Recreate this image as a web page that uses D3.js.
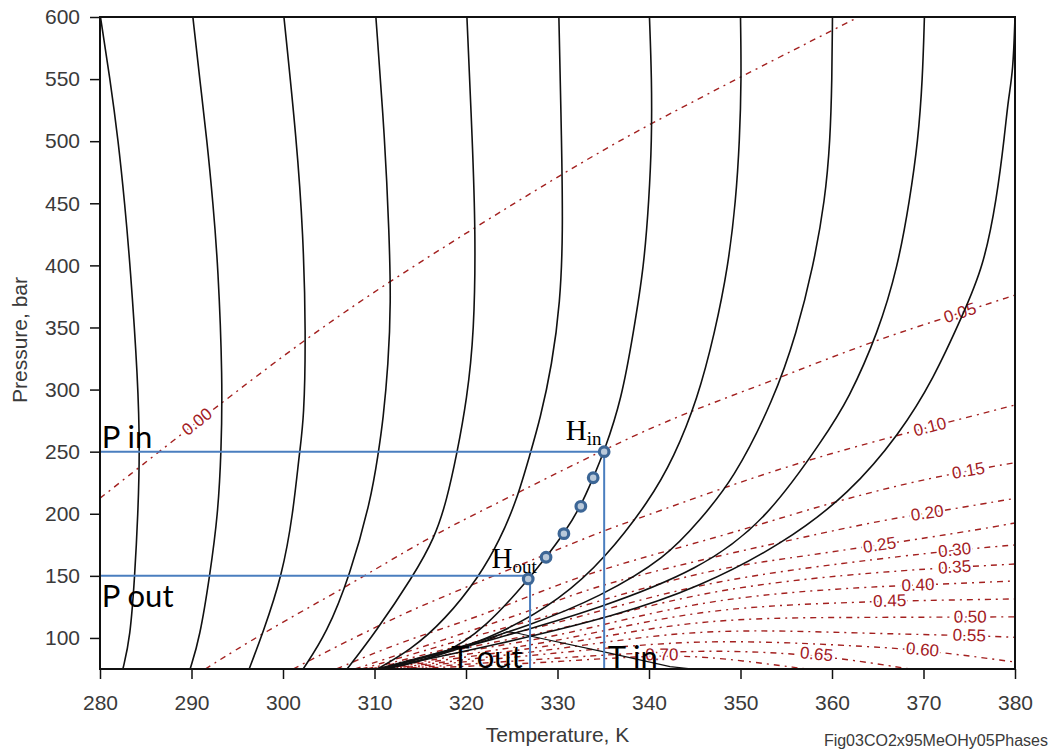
<!DOCTYPE html>
<html lang="en">
<head>
<meta charset="utf-8">
<title>CO2 / MeOH phase diagram</title>
<script src="https://cdn.jsdelivr.net/npm/d3@7"></script>
<style>
  body { margin: 0; background: #fff; }
</style>
</head>
<body>
<script>
// ---- data: [temperature K, pressure bar] ----

// isenthalps (black)
var isenthalp1 = [[280.05,600],[281.1,550],[282.0,500],[282.7,450],[283.3,400],[284.15,308],[284.35,250],[284.15,200],[283.8,150],[283.3,100],[282.5,75]];
var isenthalp2 = [[290.15,600],[290.9,550],[291.7,500],[292.35,450],[292.9,400],[293.4,308],[293.25,250],[292.9,200],[292.0,150],[290.9,100],[289.85,75]];
var isenthalp3 = [[300.1,600],[301.5,500],[302.2,426],[302.5,346],[302.3,276],[301.8,250],[301.1,200],[299.9,150],[297.8,104],[296.3,75]];
var isenthalp4 = [[310.15,600],[311.15,500],[311.6,426],[311.8,370],[311.5,320],[310.95,276],[310.4,248],[309.6,211],[307.3,150],[304.8,104],[302.2,75]];
var isenthalp5 = [[320.1,600],[320.7,500],[321.05,426],[320.9,346],[320.1,292],[319.0,248],[317.9,211],[316.6,181],[314.25,150],[310.05,104],[307.0,75]];
var isenthalp6 = [[330.15,600],[330.45,500],[330.6,426],[330.3,370],[329.4,320],[328.1,276],[327.0,248],[325.55,211],[323.7,179],[321.5,150],[317.7,114.5],[313.9,90],[310.3,75]];
var isenthalp7 = [[340.05,600],[340.3,550],[340.3,500],[340.0,453],[339.45,399],[338.3,346],[337.0,292],[335.1,250],[333.9,229],[332.55,206],[330.7,184],[328.75,165],[326.8,147],[322.25,109],[317.5,85],[311.2,75]];
var isenthalp8 = [[350.0,600],[350.1,550],[349.9,500],[349.5,453],[348.65,399],[347.2,346],[345.3,292],[342.7,245],[340.1,211],[335.2,164],[330.3,131],[324.0,104],[317.15,85.5],[311.15,75]];
var isenthalp9 = [[360.05,600],[360.0,550],[359.8,500],[359.25,453],[357.95,399],[356.15,346],[353.65,292],[349.2,227],[345.55,195],[341.95,165],[334.65,133],[327.0,110],[318.25,90],[310.6,75]];
var isenthalp10 = [[370.1,600],[369.9,550],[369.4,500],[368.5,453],[367.2,399],[365.05,346],[361.8,292],[359.2,262],[352.85,195],[345.55,155],[334.65,124],[323.7,100],[310.6,75]];
var isenthalp11 = [[380,600],[379.8,557],[379.25,533],[378.9,507],[378.0,453],[376.55,399],[374.35,361],[371.05,308],[367.45,265],[361.95,216.5],[354.7,176],[345.55,141],[336.5,118],[323.7,95],[310.6,75]];

// two-phase boundary
var envelope = [[310.15,75],[317.2,88.7],[322.0,97.5],[322.95,100.2],[324.45,105],[325.55,104],[327.0,101.6],[334.95,89],[342.3,76.9],[344.8,75]];

// vapour fraction contours (red, dashed)
var vf00 = [[280,212.5],[299.65,326.5],[311.7,388.2],[330.6,474.4],[340.1,514.6],[362.9,600]];
var vf05 = [[291.5,75],[297.8,104],[306.95,141.3],[316.05,181.5],[321.55,201.7],[336.45,257],[344.8,283.6],[352.85,305.3],[363.8,337.5],[374.0,361.7],[380,376.1]];
var vf10 = [[301.1,75],[312.8,119.3],[321.55,145.3],[334.65,185.6],[339.4,197.6],[347.4,219.1],[357.25,243.3],[366.65,262.1],[370.7,269.9],[380,287.6]];
var vf15 = [[305.85,75],[312.8,96.8],[321.55,117.1],[330.25,144.2],[338.25,162.8],[349.2,184.5],[360.1,209.7],[371.05,229.8],[380,241.1]];
var vf20 = [[307.85,75],[321.55,108],[330.25,130.6],[334.65,142.6],[345.55,162.8],[356.5,180.5],[365.55,195],[372.55,203],[380,212.4]];
var vf25 = [[308.6,75],[321.55,103],[330.25,120],[345.55,154],[355,164],[365.25,174.9],[375.8,186.9],[380,192.6]];
var vf30 = [[309.2,75],[321.55,98],[330.25,112],[345.55,145],[361.95,161],[373.45,170.8],[380,174.9]];
var vf35 = [[309.6,75],[321.55,95],[330.25,106],[345.55,138],[361.95,151.5],[373.45,157],[380,159.5]];
var vf40 = [[310.0,75],[321.55,92],[330.25,101],[345.55,131],[361.95,140.5],[369.4,142.6],[380,145.9]];
var vf45 = [[310.4,75],[321.55,89],[330.25,97],[345.55,124],[361.95,128.5],[366.35,129.8],[380,131.4]];
var vf50 = [[310.8,75],[321.55,86.5],[330.25,94],[345.55,116],[361.95,116.5],[380,117]];
var vf55 = [[311.2,75],[321.55,84],[330.25,91],[345.55,108],[361.95,104],[375,102],[380,100.5]];
var vf60 = [[311.6,75],[321.55,82],[330.25,88],[345.55,99.5],[361.95,94],[369.95,90.5],[380,80.6]];
var vf65 = [[312.0,75],[321.55,79.5],[330.25,84],[345.55,91],[358.25,87],[368.5,75]];
var vf70 = [[312.4,75],[321.55,77.5],[330.25,81],[341.4,86.5],[348,84],[357.2,75]];
var vfLabels = ["0.00","0.05","0.10","0.15","0.20","0.25","0.30","0.35","0.40","0.45","0.50","0.55","0.60","0.65","0.70"];
var vfLabelT = [290.6, 374.0, 370.7, 374.9, 370.4, 365.2, 373.4, 373.4, 369.4, 366.3, 375.1, 375.0, 369.9, 358.3, 341.4];

// process: inlet / outlet and the path points between them
var pIn = 250, pOut = 150, tIn = 335.1, tOut = 327.0;
var pathT = [335.1, 333.9, 332.55, 330.7, 328.75, 326.8];
var pathP = [250, 229, 206, 184, 165, 147.5];

// axis ticks
var tTicks = d3.range(280, 381, 10);
var pTicks = d3.range(100, 601, 50);

// ---- drawing ----
var width = 1050, height = 749;
var svg = d3.select("body").append("svg")
            .attr("width", width)
            .attr("height", height);

var x = d3.scaleLinear().domain([280, 380]).range([100, 1015]);
var y = d3.scaleLinear().domain([75, 600]).range([669, 17]);

svg.append("defs").append("clipPath").attr("id", "plot")
   .append("rect")
   .attr("x", x(280)).attr("y", y(600))
   .attr("width", x(380) - x(280)).attr("height", y(75) - y(600));

var plot = svg.append("g").attr("clip-path", "url(#plot)");

var smooth = d3.line().x(function(d){ return x(d[0]); }).y(function(d){ return y(d[1]); })
               .curve(d3.curveBasis);

// linear lookup of P along a contour at temperature t
var atT = function(pts, t){
  for (var i = 1; i < pts.length; i++) {
    if (t <= pts[i][0]) {
      var a = pts[i-1], b = pts[i];
      return a[1] + (b[1] - a[1]) * (t - a[0]) / (b[0] - a[0]);
    }
  }
  return pts[pts.length-1][1];
};

var contours = [vf00, vf05, vf10, vf15, vf20, vf25, vf30, vf35, vf40, vf45, vf50, vf55, vf60, vf65, vf70];
var red = "#a3201f";

plot.selectAll("path.vf")
    .data(contours)
    .enter().append("path")
    .attr("class", "vf")
    .attr("d", smooth)
    .attr("fill", "none")
    .attr("stroke", red)
    .attr("stroke-width", 1.4)
    .attr("stroke-dasharray", "6,5,2,5");

// contour labels, turned along the line
contours.forEach(function(pts, i){
  var t = vfLabelT[i];
  var x1 = x(t - 1), y1 = y(atT(pts, t - 1));
  var x2 = x(t + 1), y2 = y(atT(pts, t + 1));
  var ang = Math.atan2(y2 - y1, x2 - x1) * 180 / Math.PI;
  plot.append("text")
      .attr("transform", "translate(" + x(t) + "," + y(atT(pts, t)) + ") rotate(" + ang + ")")
      .attr("text-anchor", "middle")
      .attr("dominant-baseline", "central")
      .attr("font-family", "Liberation Sans, Arial, sans-serif")
      .attr("font-size", 17)
      .attr("fill", red)
      .attr("stroke", "#fff")
      .attr("stroke-width", 4)
      .attr("paint-order", "stroke")
      .text(vfLabels[i]);
});

var isenthalps = [isenthalp1, isenthalp2, isenthalp3, isenthalp4, isenthalp5, isenthalp6,
                  isenthalp7, isenthalp8, isenthalp9, isenthalp10, isenthalp11];

plot.selectAll("path.h")
    .data(isenthalps)
    .enter().append("path")
    .attr("class", "h")
    .attr("d", smooth)
    .attr("fill", "none")
    .attr("stroke", "#111")
    .attr("stroke-width", 1.6);

plot.append("path")
    .datum(envelope)
    .attr("d", d3.line().x(function(d){ return x(d[0]); }).y(function(d){ return y(d[1]); }))
    .attr("fill", "none")
    .attr("stroke", "#111")
    .attr("stroke-width", 1.2);

// inlet / outlet guide lines
var blue = "#4a7ebf";
var guides = [
  [[280, pIn], [tIn, pIn]],
  [[tIn, pIn], [tIn, 75]],
  [[280, pOut], [tOut, pOut]],
  [[tOut, pOut], [tOut, 75]]
];
plot.selectAll("path.guide")
    .data(guides)
    .enter().append("path")
    .attr("class", "guide")
    .attr("d", d3.line().x(function(d){ return x(d[0]); }).y(function(d){ return y(d[1]); }))
    .attr("stroke", blue)
    .attr("stroke-width", 2);

plot.selectAll("circle.pt")
    .data(pathT)
    .enter().append("circle")
    .attr("class", "pt")
    .attr("cx", function(d){ return x(d); })
    .attr("cy", function(d, i){ return y(pathP[i]); })
    .attr("r", 4.8)
    .attr("fill", "#b9c9da")
    .attr("stroke", "#3c6696")
    .attr("stroke-width", 3.2);

// annotations
var note = function(t, p, str){
  return svg.append("text")
            .attr("x", x(t)).attr("y", y(p))
            .attr("font-family", "Lato, 'Open Sans', sans-serif")
            .attr("font-size", 31)
            .attr("fill", "#000")
            .text(str);
};
note(280.2, 253, "P in");
note(280.2, 125, "P out");
note(318.4, 75.5, "T out");
note(335.5, 75.5, "T in");

var hLabel = function(t, p, sub){
  var tx = svg.append("text")
              .attr("x", x(t)).attr("y", y(p))
              .attr("font-family", "Liberation Serif, 'Times New Roman', serif")
              .attr("fill", "#000");
  tx.append("tspan").attr("font-size", 29).text("H");
  tx.append("tspan").attr("font-size", 19).attr("dy", 5).text(sub);
};
hLabel(330.9, 259, "in");
hLabel(322.8, 156, "out");

// axes
var tickFont = "Liberation Sans, Arial, sans-serif";
var xAxis = svg.append("g")
               .attr("transform", "translate(0," + y(75) + ")")
               .call(d3.axisBottom(x).tickValues(tTicks).tickSize(10).tickPadding(16).tickFormat(d3.format("d")));
var yAxis = svg.append("g")
               .attr("transform", "translate(" + x(280) + ",0)")
               .call(d3.axisLeft(y).tickValues(pTicks).tickSize(10).tickPadding(10).tickFormat(d3.format("d")));
[xAxis, yAxis].forEach(function(g){
  g.select(".domain").remove();
  g.selectAll(".tick line").attr("stroke", "#111").attr("stroke-width", 1.5);
  g.selectAll(".tick text").attr("font-family", tickFont).attr("font-size", 21).attr("fill", "#3a3a3a");
});

svg.append("rect")
   .attr("x", x(280)).attr("y", y(600))
   .attr("width", x(380) - x(280)).attr("height", y(75) - y(600))
   .attr("fill", "none")
   .attr("stroke", "#111")
   .attr("stroke-width", 2);

svg.append("text")
   .attr("x", (x(280) + x(380)) / 2)
   .attr("y", 742)
   .attr("text-anchor", "middle")
   .attr("font-family", tickFont)
   .attr("font-size", 21)
   .attr("fill", "#3a3a3a")
   .text("Temperature, K");

svg.append("text")
   .attr("transform", "translate(27,340) rotate(-90)")
   .attr("text-anchor", "middle")
   .attr("font-family", tickFont)
   .attr("font-size", 21)
   .attr("fill", "#3a3a3a")
   .text("Pressure, bar");

svg.append("text")
   .attr("x", 1048)
   .attr("y", 746)
   .attr("text-anchor", "end")
   .attr("font-family", tickFont)
   .attr("font-size", 16)
   .attr("fill", "#3a3a3a")
   .text("Fig03CO2x95MeOHy05Phases");
</script>
</body>
</html>
